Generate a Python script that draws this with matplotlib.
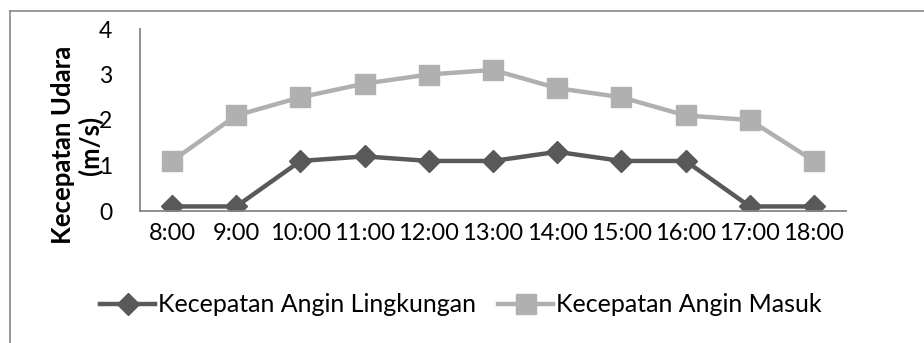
import matplotlib
matplotlib.use("Agg")
from matplotlib import pyplot as plt
from matplotlib.lines import Line2D

# hourly readings
jam = ["8:00", "9:00", "10:00", "11:00", "12:00", "13:00", "14:00", "15:00", "16:00", "17:00", "18:00"]
angin_lingkungan = [0.1, 0.1, 1.1, 1.2, 1.1, 1.1, 1.3, 1.1, 1.1, 0.1, 0.1]
angin_masuk = [1.1, 2.1, 2.5, 2.8, 3.0, 3.1, 2.7, 2.5, 2.1, 2.0, 1.1]

plt.rcParams['font.family'] = ['Lato', 'DejaVu Sans']

fig = plt.figure(figsize=(9.24, 3.43), dpi=100)
ax = fig.add_axes([140/924, 1-211/343, 706/924, 182/343])

x = range(len(jam))
ax.plot(x, angin_lingkungan, color="#595959", lw=3.2, marker="D", ms=11,
        label="Kecepatan Angin Lingkungan")
ax.plot(x, angin_masuk, color="#b0b0b0", lw=3.2, marker="s", ms=14,
        label="Kecepatan Angin Masuk")

ax.set_xlim(-0.5, len(jam)-0.5)
ax.set_ylim(0, 4)
ax.set_yticks([0, 1, 2, 3, 4])
ax.set_xticks(list(x))
ax.set_xticklabels(jam)
ax.tick_params(length=0)
ax.tick_params(axis="y", labelsize=16.5, pad=20)
ax.tick_params(axis="x", labelsize=17, pad=9)
for s in ["top", "right"]:
    ax.spines[s].set_visible(False)
for s in ["left", "bottom"]:
    ax.spines[s].set_color("#868686")
    ax.spines[s].set_linewidth(1.3)

fig.text(77/924, 1-145/343, "Kecepatan Udara\n(m/s)", rotation=90, ha="center", va="center",
         fontsize=18.5, fontweight="bold", multialignment="center", linespacing=1.15)

fig.legend(loc="center", bbox_to_anchor=(461/924, 1-305/343), ncol=2, frameon=False,
           fontsize=18, handlelength=2.2, handletextpad=0.1, columnspacing=0.9)

# outer chart frame
fig.add_artist(Line2D([10/924, 1], [1-11/343, 1-11/343], color="#888888", lw=1.2))
fig.add_artist(Line2D([10/924, 10/924], [0, 1-11/343], color="#888888", lw=1.2))

fig.savefig("out.png", dpi=100)
